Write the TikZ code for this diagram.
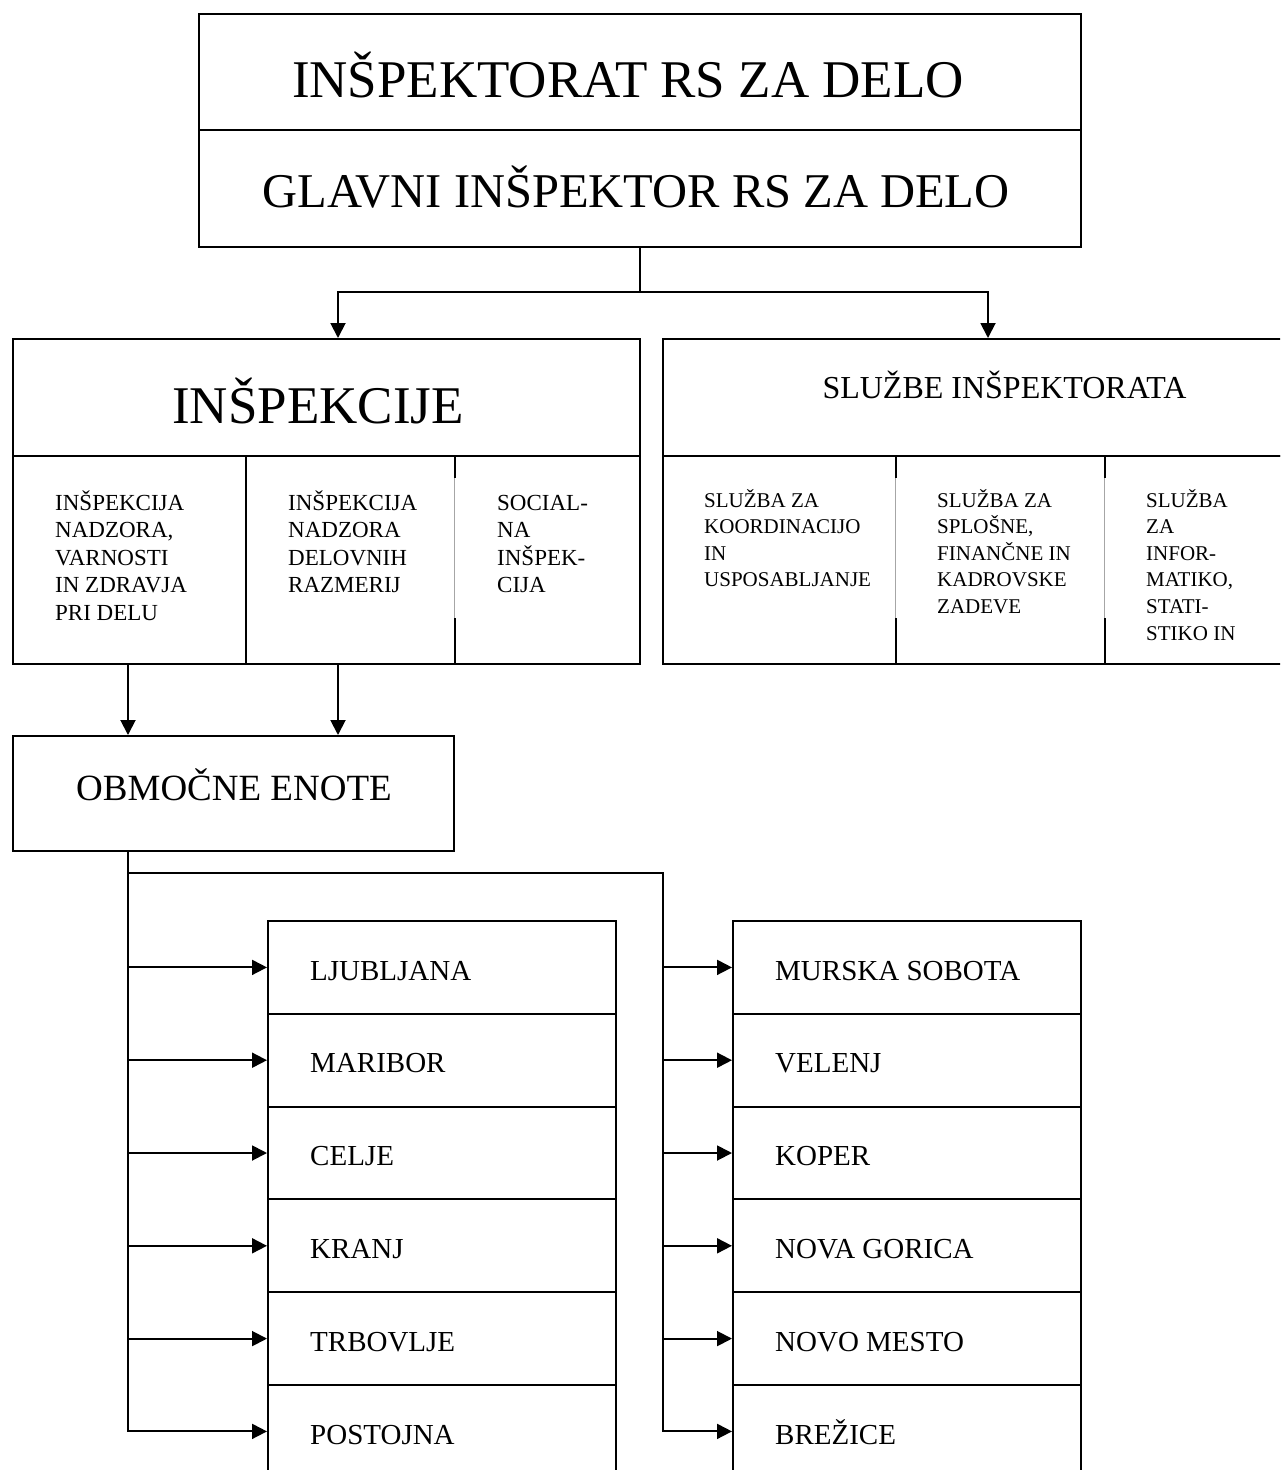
\documentclass[tikz,border=0pt]{standalone}
\usepackage{fontspec}
\setmainfont{Liberation Serif}
\usetikzlibrary{arrows.meta}
\begin{document}
\begin{tikzpicture}[x=1pt,y=-1pt,
  box/.style={draw, line width=2pt, rectangle, inner sep=0pt, anchor=north west},
  conn/.style={line width=1.9pt},
  arr/.style={conn, -{Triangle[length=15pt,width=15pt]}},
  gapline/.style={draw=gray!70, line width=0.7pt},
  gapcover/.style={draw=white, line width=3pt},
  bigtxt/.style={inner sep=0pt, anchor=base, font=\fontsize{53}{60}\selectfont},
  celltxt/.style={inner sep=0pt, anchor=base west, align=left, font=\fontsize{23}{27.5}\selectfont},
  svctxt/.style={inner sep=0pt, anchor=base west, align=left, font=\fontsize{21}{26.6}\selectfont},
  citytxt/.style={inner sep=0pt, anchor=base west, font=\fontsize{29}{34}\selectfont}]
\useasboundingbox (0,0) rectangle (1280,1470);
\clip (0,0) rectangle (1280,1470);

% top block
\node[box, minimum width=882pt, minimum height=116pt] (t1) at (198,13) {};
\node[box, minimum width=882pt, minimum height=117pt] (t2) at (198,129) {};
\node[bigtxt] (t1txt) at (628,97) {INŠPEKTORAT RS ZA DELO};
\node[bigtxt, font=\fontsize{48.5}{56}\selectfont] (t2txt) at (636,207) {GLAVNI INŠPEKTOR RS ZA DELO};

% inspections
\node[box, minimum width=627pt, minimum height=117pt] (ins) at (12,338) {};
\node[bigtxt] (instxt) at (318,423) {INŠPEKCIJE};
\node[box, minimum width=233pt, minimum height=208pt] (c1) at (12,455) {};
\node[box, minimum width=209pt, minimum height=208pt] (c2) at (245,455) {};
\node[box, minimum width=185pt, minimum height=208pt] (c3) at (454,455) {};
\draw[gapcover] (454,478) -- (454,618);
\draw[gapline] (454,478) -- (454,618);
% anchor base = baseline of the last line
\node[celltxt] (c1t) at (55,620) {INŠPEKCIJA\\NADZORA,\\VARNOSTI\\IN ZDRAVJA\\PRI DELU};
\node[celltxt] (c2t) at (288,592.5) {INŠPEKCIJA\\NADZORA\\DELOVNIH\\RAZMERIJ};
\node[celltxt] (c3t) at (497,592.5) {SOCIAL-\\NA\\INŠPEK-\\CIJA};

% services
\node[box, minimum width=700pt, minimum height=117pt] (svc) at (662,338) {};
\node[inner sep=0pt, anchor=base, font=\fontsize{32}{38}\selectfont] (svctitle) at (1004.5,398) {SLUŽBE INŠPEKTORATA};
\node[box, minimum width=233pt, minimum height=208pt] (s1) at (662,455) {};
\node[box, minimum width=209pt, minimum height=208pt] (s2) at (895,455) {};
\node[box, minimum width=300pt, minimum height=208pt] (s3) at (1104,455) {};
\draw[gapcover] (895,478) -- (895,618);
\draw[gapline] (895,478) -- (895,618);
\draw[gapcover] (1104,478) -- (1104,618);
\draw[gapline] (1104,478) -- (1104,618);
\node[svctxt] (s1t) at (704,586.8) {SLUŽBA ZA\\KOORDINACIJO\\IN\\USPOSABLJANJE};
\node[svctxt] (s2t) at (937,613.4) {SLUŽBA ZA\\SPLOŠNE,\\FINANČNE IN\\KADROVSKE\\ZADEVE};
\node[svctxt] (s3t) at (1146,640) {SLUŽBA\\ZA\\INFOR-\\MATIKO,\\STATI-\\STIKO IN};

% top connectors
\coordinate (jI) at (338,292);
\coordinate (jS) at (988,292);
\draw[conn] (t2.south) -- (t2.south |- jI);
\draw[arr] (t2.south |- jI) -- (jI) -- (jI |- ins.north);
\draw[arr] (t2.south |- jS) -- (jS) -- (jS |- svc.north);

% regional units
\node[box, minimum width=441pt, minimum height=115pt] (obm) at (12,735) {};
\node[inner sep=0pt, anchor=base, font=\fontsize{37}{44}\selectfont] (obmtxt) at (234,800) {OBMOČNE ENOTE};
\coordinate (k1) at (128,663);
\coordinate (k2) at (338,663);
\draw[arr] (k1) -- (k1 |- obm.north);
\draw[arr] (k2) -- (k2 |- obm.north);

% city boxes
\foreach \n [count=\i from 0] in {LJUBLJANA,MARIBOR,CELJE,KRANJ,TRBOVLJE,POSTOJNA} {
  \node[box, minimum width=348pt, minimum height=92.8pt] (L\i) at (267,920+\i*92.8) {};
  \node[citytxt] (Lt\i) at ([xshift=43pt,yshift=-12.6pt]L\i.west) {\n};
}
\foreach \n [count=\i from 0] in {MURSKA SOBOTA,VELENJ,KOPER,NOVA GORICA,NOVO MESTO,BREŽICE} {
  \node[box, minimum width=348pt, minimum height=92.8pt] (R\i) at (732,920+\i*92.8) {};
  \node[citytxt] (Rt\i) at ([xshift=43pt,yshift=-12.6pt]R\i.west) {\n};
}

% bus lines
\coordinate (b0) at (128,850);
\coordinate (bt) at (663,873);
\draw[arr] (b0) |- (L5.west);
\draw[arr] (b0 |- bt) -- (bt) |- (R5.west);
\foreach \i in {0,...,4} {
  \draw[arr] (b0 |- L\i.west) -- (L\i.west);
  \draw[arr] (bt |- R\i.west) -- (R\i.west);
}
\end{tikzpicture}
\end{document}
